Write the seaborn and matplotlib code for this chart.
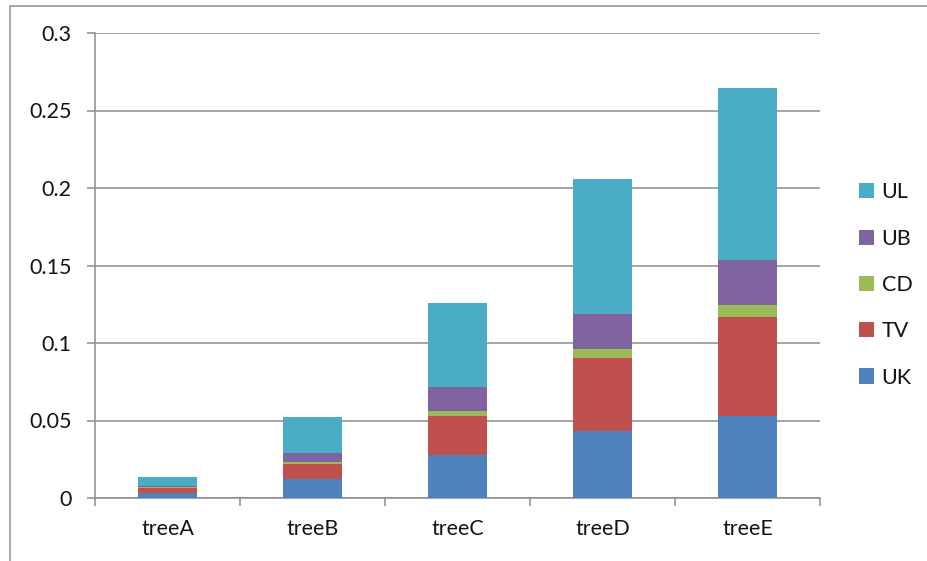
import matplotlib
matplotlib.use("Agg")
import matplotlib.pyplot as plt
from matplotlib.patches import Patch, Rectangle
from matplotlib.ticker import FixedLocator
import numpy as np
import pandas as pd
import seaborn as sns

# Chart data
trees = ["treeA", "treeB", "treeC", "treeD", "treeE"]
series = ["UK", "TV", "CD", "UB", "UL"]
uk = [0.0030, 0.0123, 0.0277, 0.0432, 0.0530]
tv = [0.0033, 0.0094, 0.0252, 0.0473, 0.0637]
cd = [0.0005, 0.0017, 0.0032, 0.0058, 0.0075]
ub = [0.0008, 0.0054, 0.0153, 0.0226, 0.0293]
ul = [0.0057, 0.0233, 0.0542, 0.0867, 0.1108]
yticks = [0, 0.05, 0.1, 0.15, 0.2, 0.25, 0.3]
ytick_labels = ["0", "0.05", "0.1", "0.15", "0.2", "0.25", "0.3"]

colors = {"UK": "#4F81BD", "TV": "#C0504D", "CD": "#9BBB59",
          "UB": "#8064A2", "UL": "#4BACC6"}

sns.set_theme(style="white")
plt.rcParams["font.family"] = ["Lato", "DejaVu Sans"]

values = {"UK": uk, "TV": tv, "CD": cd, "UB": ub, "UL": ul}
df = pd.DataFrame(values, index=trees)
cum = df[series].cumsum(axis=1)

fig = plt.figure(figsize=(9.27, 5.61), dpi=100)
ax = fig.add_axes([95 / 927, 63 / 561, 725 / 927, 465 / 561])

# Stacked bars: draw cumulative heights from the top series down
for name in reversed(series):
    part = pd.DataFrame({"tree": trees, "value": cum[name].values})
    sns.barplot(data=part, x="tree", y="value", color=colors[name],
                width=0.41, saturation=1, ax=ax, zorder=3,
                edgecolor="none", linewidth=0)

grid_c = "#8C8C8C"
text_c = "#141414"
fs = 15.5
ax.set_ylim(0, 0.3)
ax.set_xlim(-0.5, len(trees) - 0.5)
ax.set_yticks(yticks)
ax.set_yticklabels(ytick_labels)
ax.yaxis.grid(True, color=grid_c, linewidth=1.1, zorder=0)
ax.xaxis.grid(False)
ax.set_axisbelow(True)
ax.set_xlabel("")
ax.set_ylabel("")

for side in ["top", "right"]:
    ax.spines[side].set_visible(False)
for side in ["left", "bottom"]:
    ax.spines[side].set_color(grid_c)
    ax.spines[side].set_linewidth(1.1)

ax.tick_params(axis="y", length=6, width=1.1, color=grid_c, pad=11,
               labelsize=fs, labelcolor=text_c, left=True)
ax.tick_params(axis="x", which="major", length=0, pad=15,
               labelsize=fs, labelcolor=text_c)
ax.xaxis.set_minor_locator(FixedLocator(np.arange(-0.5, len(trees), 1.0)))
ax.tick_params(axis="x", which="minor", length=6, width=1.1, color=grid_c,
               bottom=True)

handles = [Patch(facecolor=colors[s], edgecolor="none", label=s)
           for s in reversed(series)]
fig.legend(handles=handles, loc="center left",
           bbox_to_anchor=(859 / 927, 1 - 285 / 561), frameon=False,
           fontsize=fs, handlelength=0.7, handleheight=0.7,
           handletextpad=0.35, labelspacing=1.22, borderpad=0,
           borderaxespad=0, labelcolor=text_c)

# Outer chart frame
fig.patches.append(Rectangle((10 / 927, -0.2), 1.2, 1.2 - 6 / 561,
                             transform=fig.transFigure, fill=False,
                             edgecolor="#9a9a9a", linewidth=1.2))

fig.savefig("out.png", dpi=100)
